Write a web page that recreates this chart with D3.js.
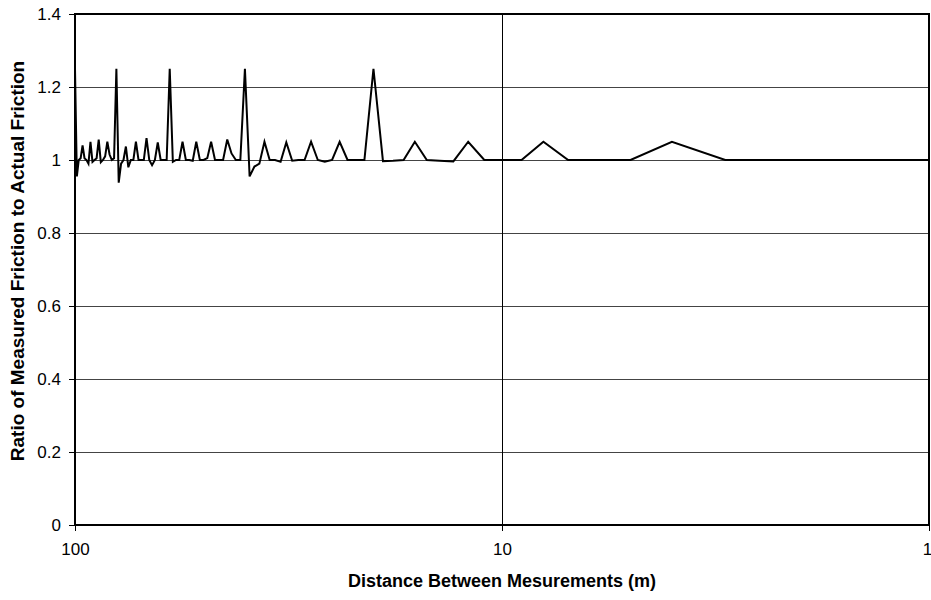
<!DOCTYPE html>
<html>
<head>
<meta charset="utf-8">
<script src="https://cdn.jsdelivr.net/npm/d3@7/dist/d3.min.js"></script>
<style>
  html, body { margin: 0; padding: 0; background: #fff; }
  svg { display: block; font-family: "Liberation Sans", Arial, sans-serif; }
</style>
</head>
<body>
<svg id="chart" width="931" height="600"></svg>
<script>
// Distance between measurements (m), from 100 down to 1
const distances = d3.range(100, 0, -1);

// Ratio of measured friction to actual friction, one per distance above
const ratios = [
  1.25, 0.955, 1.0, 1.005, 1.04, 1.005, 1.0, 0.99, 1.05, 0.995,   // 100..91
  1.0, 1.005, 1.056, 0.994, 1.0, 1.01, 1.05, 1.015, 1.0, 1.005,    // 90..81
  1.25, 0.938, 0.99, 1.0, 1.037, 0.98, 1.0, 1.0, 1.05, 1.0,        // 80..71
  1.0, 1.0, 1.06, 1.0, 0.986, 1.0, 1.048, 1.0, 1.0, 1.0,           // 70..61
  1.25, 0.995, 1.0, 1.0, 1.05, 1.0, 1.0, 0.998, 1.05, 1.0,         // 60..51
  1.0, 1.005, 1.05, 1.0, 1.0, 1.0, 1.056, 1.018, 1.0, 1.0,         // 50..41
  1.25, 0.955, 0.982, 0.99, 1.05, 1.0, 1.0, 0.995, 1.048, 0.998,   // 40..31
  1.0, 1.0, 1.05, 1.0, 0.995, 1.0, 1.05, 1.0, 1.0, 1.0,            // 30..21
  1.25, 0.997, 0.998, 1.0, 1.05, 1.0, 0.998, 0.996, 1.05, 1.0,     // 20..11
  1.0, 1.0, 1.05, 1.0, 1.0, 1.0, 1.05, 1.0, 1.0, 1.0               // 10..1
];

const yTicks = [0, 0.2, 0.4, 0.6, 0.8, 1, 1.2, 1.4];
const xTicks = [100, 10, 1];

const xTitle = "Distance Between Mesurements (m)";
const yTitle = "Ratio of Measured Friction to Actual Friction";

const svg = d3.select("#chart");
const plot = { left: 75, right: 929, top: 14, bottom: 525 };

// Log scale running from 100 on the left to 1 on the right
const x = d3.scaleLog().domain([100, 1]).range([plot.left, plot.right]);
const y = d3.scaleLinear().domain([0, 1.4]).range([plot.bottom, plot.top]);

// Horizontal gridlines
svg.append("g")
  .selectAll("line")
  .data(yTicks)
  .join("line")
  .attr("x1", plot.left).attr("x2", plot.right)
  .attr("y1", d => y(d)).attr("y2", d => y(d))
  .attr("stroke", "#444").attr("stroke-width", 1)
  .attr("shape-rendering", "crispEdges");

// Vertical gridlines at decades
svg.append("g")
  .selectAll("line")
  .data(xTicks)
  .join("line")
  .attr("x1", d => x(d)).attr("x2", d => x(d))
  .attr("y1", plot.top).attr("y2", plot.bottom)
  .attr("stroke", "#000").attr("stroke-width", 1)
  .attr("shape-rendering", "crispEdges");

// Frame around the plot area
svg.append("rect")
  .attr("x", plot.left).attr("y", plot.top)
  .attr("width", plot.right - plot.left).attr("height", plot.bottom - plot.top)
  .attr("fill", "none").attr("stroke", "#000").attr("stroke-width", 1.5)
  .attr("shape-rendering", "crispEdges");

// Left axis
const yAxis = d3.axisLeft(y).tickValues(yTicks).tickSize(6).tickPadding(8)
  .tickFormat(d3.format("~g"));
svg.append("g")
  .attr("transform", `translate(${plot.left},0)`)
  .call(yAxis)
  .call(g => g.select(".domain").remove())
  .call(g => g.selectAll("text").attr("font-size", 17).attr("fill", "#000")
    .attr("font-family", "Liberation Sans, Arial, sans-serif"))
  .call(g => g.selectAll("line").attr("stroke", "#000"));

// Bottom axis; the last label is nudged inward so it stays on the page
const xAxis = d3.axisBottom(x).tickValues(xTicks).tickSize(6).tickPadding(12)
  .tickFormat(d3.format("d"));
svg.append("g")
  .attr("transform", `translate(0,${plot.bottom})`)
  .call(xAxis)
  .call(g => g.select(".domain").remove())
  .call(g => g.selectAll("text").attr("font-size", 17).attr("fill", "#000")
    .attr("font-family", "Liberation Sans, Arial, sans-serif")
    .attr("dx", d => d === 1 ? -2 : 0))
  .call(g => g.selectAll("line").attr("stroke", "#000"));

// Data line
const line = d3.line()
  .x((d, i) => x(distances[i]))
  .y(d => y(d));
svg.append("path")
  .datum(ratios)
  .attr("d", line)
  .attr("fill", "none")
  .attr("stroke", "#000")
  .attr("stroke-width", 2)
  .attr("stroke-linejoin", "miter");

// Axis titles
svg.append("text")
  .attr("x", 502)
  .attr("y", 587)
  .attr("text-anchor", "middle")
  .attr("font-size", 18).attr("font-weight", "bold")
  .text(xTitle);

svg.append("text")
  .attr("transform", `translate(24,261) rotate(-90)`)
  .attr("text-anchor", "middle")
  .attr("font-size", 19).attr("font-weight", "bold")
  .text(yTitle);
</script>
</body>
</html>
